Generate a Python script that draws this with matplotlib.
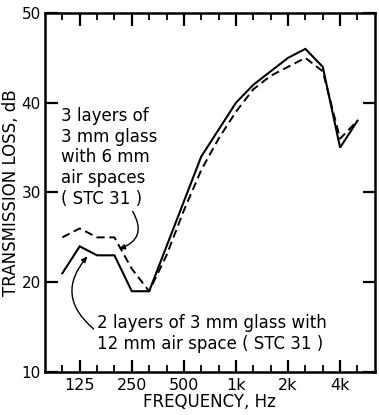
import numpy as np
import matplotlib
matplotlib.use('Agg')
import matplotlib.pyplot as plt

# third-octave bands, 100 Hz .. 5 kHz
bands = [100, 125, 160, 200, 250, 315, 400, 500, 630, 800,
         1000, 1250, 1600, 2000, 2500, 3150, 4000, 5000]
# 2 layers of 3 mm glass, 12 mm air space
tl_two = [21, 24, 23, 23, 19, 19, 24, 29, 34, 37,
          40, 42, 43.5, 45, 46, 44, 35, 38]
# 3 layers of 3 mm glass, 6 mm air spaces
tl_three = [25, 26, 25, 25, 21.5, 19, 23, 28, 32.5, 36,
            39, 41.5, 43, 44, 45, 43.5, 36, 38]

octave_labels = ['125', '250', '500', '1k', '2k', '4k']
y_ticks = [10, 20, 30, 40, 50]

# position on a band-index axis (125 Hz = 0)
idx = np.round(np.log2(np.array(bands) / 125.0) * 3)

plt.rcParams['font.family'] = 'DejaVu Sans'
fig = plt.figure(figsize=(3.79, 4.15), dpi=100)
ax = fig.add_axes([0.1187, 0.1036, 0.8703, 0.8651])

ax.plot(idx, tl_two, color='k', lw=1.5, solid_joinstyle='miter')
ax.plot(idx, tl_three, color='k', lw=1.4, dashes=(4.2, 2.4))

ax.set_xlim(-2, 17)
ax.set_ylim(10, 50)
ax.set_xticks(np.arange(0, 16, 3))
ax.set_xticklabels(octave_labels)
ax.set_xticks(np.arange(-1, 17), minor=True)
ax.set_yticks(y_ticks)
ax.set_yticklabels([str(v) for v in y_ticks])

for s in ax.spines.values():
    s.set_linewidth(1.8)
ax.tick_params(axis='both', which='major', direction='in', length=9, width=1.6,
               top=True, right=True, pad=3)
ax.tick_params(axis='x', which='minor', direction='in', length=5, width=1.3,
               top=True, bottom=True)
ax.tick_params(axis='y', which='major', labelsize=11)
ax.tick_params(axis='x', which='major', labelsize=11.5, pad=4)

ax.set_xlabel('FREQUENCY, Hz', fontsize=12, labelpad=0)
ax.set_ylabel('TRANSMISSION LOSS, dB', fontsize=12, labelpad=1)

ax.text(-1.05, 33.9, '3 layers of\n3 mm glass\nwith 6 mm\nair spaces\n( STC 31 )',
        fontsize=12, va='center', ha='left', linespacing=1.2)
ax.text(0.98, 14.3, '2 layers of 3 mm glass with\n12 mm air space ( STC 31 )',
        fontsize=12, va='center', ha='left', linespacing=1.2)

ax.annotate('', xy=(2.25, 23.7), xytext=(3.05, 27.9),
            arrowprops=dict(arrowstyle='-|>,head_length=0.35,head_width=0.15',
                            color='k', lw=1.0, connectionstyle='arc3,rad=-0.6',
                            shrinkA=0, shrinkB=0))
ax.annotate('', xy=(0.45, 22.9), xytext=(0.8, 14.8),
            arrowprops=dict(arrowstyle='-|>,head_length=0.35,head_width=0.15',
                            color='k', lw=1.0, connectionstyle='arc3,rad=-0.5',
                            shrinkA=0, shrinkB=0))

fig.savefig('out.png', dpi=100)
